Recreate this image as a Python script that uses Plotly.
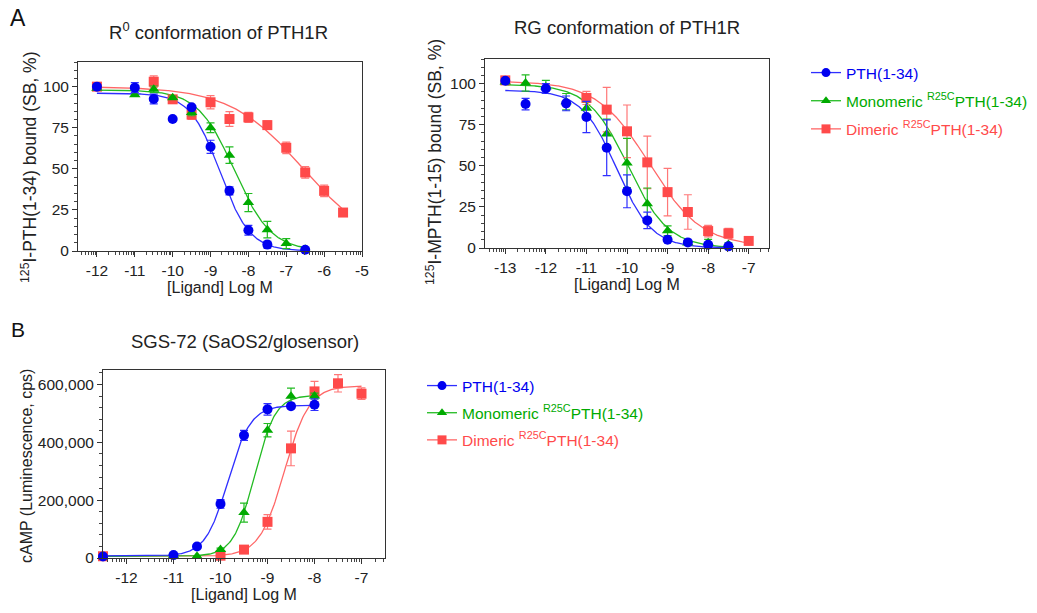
import numpy as np
import plotly.graph_objects as go

# ---------------- data ----------------
series_names = ["PTH(1-34)", "Monomeric <sup>R25C</sup>PTH(1-34)", "Dimeric <sup>R25C</sup>PTH(1-34)"]
series_colors = ["#0000F0", "#00AA00", "#FF4A4A"]
line_colors = ["#2F2FFF", "#22BB22", "#FF6666"]
err_colors = ["#2F2FFF", "#22BB22", "#FF7777"]
symbols = ["circle", "triangle-up", "square"]

# Panel A, R0 conformation (percent specific binding)
r0_pth_x = [-12, -11, -10.5, -10, -9.5, -9, -8.5, -8, -7.5, -6.5]
r0_pth_y = [100, 99.4, 92.5, 80.3, 87.4, 63.4, 36.6, 12.6, 3.9, 0.8]
r0_pth_e = [0, 3, 3, 0, 0, 4, 2.5, 3, 2, 0]
r0_mono_x = [-12, -11, -10.5, -10, -9.5, -9, -8.5, -8, -7.5, -7, -6.5]
r0_mono_y = [99, 95, 98.4, 93.3, 84.3, 75, 58.3, 29.5, 13, 4.5, 1]
r0_mono_e = [0, 0, 2, 1, 2, 3, 5, 5.5, 5, 3, 0]
r0_dim_x = [-12, -10.5, -10, -9.5, -9, -8.5, -8, -7.5, -7, -6.5, -6, -5.5]
r0_dim_y = [100, 103, 92.3, 83, 90.5, 80.3, 81.3, 76.6, 62.8, 47.8, 36.6, 23.4]
r0_dim_e = [0, 3.5, 1.5, 3, 4, 4.5, 3, 2.5, 3.5, 3.5, 3.5, 2]

# Panel A, RG conformation (percent specific binding)
rg_pth_x = [-13, -12.5, -12, -11.5, -11, -10.5, -10, -9.5, -9, -8.5, -8, -7.5]
rg_pth_y = [101.8, 87.6, 97, 88, 79.7, 61, 34.5, 16.8, 5, 3.4, 2, 1]
rg_pth_e = [0, 3.5, 3, 4.5, 9.5, 17, 10, 5, 1, 1, 1, 0]
rg_mono_x = [-13, -12.5, -12, -11.5, -11, -10.5, -10, -9.5, -9, -8.5, -8, -7.5]
rg_mono_y = [101, 100.4, 98, 89, 85, 69.4, 51.7, 27, 10.5, 3, 3.2, 2.2]
rg_mono_e = [0, 5, 4, 5, 4, 9, 15, 9.5, 3, 1, 2, 1]
rg_dim_x = [-13, -11, -10.5, -10, -9.5, -9, -8.5, -8, -7.5, -7]
rg_dim_y = [102, 91.3, 84.2, 71, 52.1, 34, 21.9, 10.3, 8.9, 4.3]
rg_dim_e = [0, 4, 13.5, 16, 16, 14.5, 10.5, 3.5, 3, 1]

# Panel B, cAMP (luminescence, cps)
sgs_pth_x = [-12.5, -11, -10.5, -10, -9.5, -9, -8.5, -8]
sgs_pth_y = [5000, 10000, 40000, 187000, 424000, 514000, 525000, 530000]
sgs_pth_e = [0, 0, 0, 15000, 17000, 20000, 7000, 20000]
sgs_mono_x = [-12.5, -11, -10.5, -10, -9.5, -9, -8.5, -8]
sgs_mono_y = [5000, 8000, 6000, 29000, 157000, 442000, 559000, 560000]
sgs_mono_e = [0, 0, 0, 5000, 33000, 23000, 28000, 10000]
sgs_dim_x = [-12.5, -10, -9.5, -9, -8.5, -8, -7.5, -7]
sgs_dim_y = [6000, 8000, 29000, 125000, 379000, 576000, 604000, 568000]
sgs_dim_e = [0, 0, 0, 25000, 60000, 35000, 30000, 20000]

# fitted 4-parameter logistic curves: [bottom, top, logEC50, hill]
r0_fits = [[0, 96, -8.75, 1.1], [0, 98, -8.37, 0.9], [0, 100, -6.55, 0.45]]
rg_fits = [[0, 96, -10.25, 1.0], [0, 99.5, -9.97, 0.88], [1, 101.5, -9.45, 0.68]]
sgs_fits = [[7000, 528000, -9.84, 1.8], [6000, 563000, -9.28, 1.95], [6000, 595000, -8.64, 1.65]]

x_ticks_r0 = [-12, -11, -10, -9, -8, -7, -6, -5]
x_ticks_rg = [-13, -12, -11, -10, -9, -8, -7]
x_ticks_sgs = [-12, -11, -10, -9, -8, -7]
y_ticks_bind = [0, 25, 50, 75, 100]
y_ticks_camp = [0, 200000, 400000, 600000]

FONT = "Liberation Sans, Arial, sans-serif"
W, H = 1037, 613

def px_dom(a, b, total):
    return [a / total, b / total]

def py_dom(top, bottom):
    return [1 - bottom / H, 1 - top / H]

def logistic(x, p, decreasing):
    b, t, c, h = p
    x = np.asarray(x)
    if decreasing:
        return b + (t - b) / (1 + 10 ** ((x - c) * h))
    return b + (t - b) / (1 + 10 ** ((c - x) * h))

fig = go.Figure()

panels = [
    ("x", "y", [(r0_pth_x, r0_pth_y, r0_pth_e), (r0_mono_x, r0_mono_y, r0_mono_e), (r0_dim_x, r0_dim_y, r0_dim_e)], r0_fits, True),
    ("x2", "y2", [(rg_pth_x, rg_pth_y, rg_pth_e), (rg_mono_x, rg_mono_y, rg_mono_e), (rg_dim_x, rg_dim_y, rg_dim_e)], rg_fits, True),
    ("x3", "y3", [(sgs_pth_x, sgs_pth_y, sgs_pth_e), (sgs_mono_x, sgs_mono_y, sgs_mono_e), (sgs_dim_x, sgs_dim_y, sgs_dim_e)], sgs_fits, False),
]

for xa, ya, sets, fits, dec in panels:
    for i in [2, 1, 0]:
        xs, ys, es = sets[i]
        xc = np.linspace(min(xs), max(xs), 300)
        fig.add_trace(go.Scatter(x=xc, y=logistic(xc, fits[i], dec), mode="lines",
                                 line=dict(color=line_colors[i], width=1.3),
                                 xaxis=xa, yaxis=ya, showlegend=False, hoverinfo="skip",
                                 cliponaxis=False))
    for i in [2, 1, 0]:
        xs, ys, es = sets[i]
        fig.add_trace(go.Scatter(x=xs, y=ys, mode="markers",
                                 marker=dict(symbol=symbols[i], color=series_colors[i],
                                             size=10, line=dict(width=0)),
                                 error_y=dict(type="data", array=es, color=err_colors[i],
                                              thickness=1.2, width=4),
                                 xaxis=xa, yaxis=ya, showlegend=False, cliponaxis=False))

# legend entries
for lg in ["legend", "legend2"]:
    for i in range(3):
        fig.add_trace(go.Scatter(x=[None], y=[None], mode="lines+markers",
                                 name=f"<span style='color:{series_colors[i]}'>{series_names[i]}</span>",
                                 line=dict(color=line_colors[i], width=1.3),
                                 marker=dict(symbol=symbols[i], color=series_colors[i], size=9),
                                 legend=lg, legendgroup=f"{lg}{i}", showlegend=True,
                                 xaxis="x", yaxis="y"))

def log_minor(lo, hi):
    vals = []
    for n in range(int(np.floor(lo)), int(np.ceil(hi)) + 1):
        for k in range(2, 10):
            v = n + np.log10(k)
            if lo <= v <= hi:
                vals.append(v)
    return vals

tickfont = dict(family=FONT, size=15.5, color="#222")
xtitlefont = dict(family=FONT, size=16, color="#222")

def xaxis(dom, rng, ticks, anchor):
    return dict(domain=dom, range=rng, tickvals=ticks, ticktext=[str(t) for t in ticks],
                showline=True, linecolor="#333", linewidth=1, mirror=True,
                ticks="outside", ticklen=5, tickcolor="#333", tickwidth=1,
                minor=dict(tickvals=log_minor(rng[0], rng[1]), ticks="outside", ticklen=3,
                           tickcolor="#444", tickwidth=1),
                showgrid=False, zeroline=False, anchor=anchor, tickfont=tickfont,
                automargin=False,
                title=dict(text="[Ligand] Log M", font=xtitlefont, standoff=4))

def yaxis(dom, rng, ticks, anchor, minor_dtick, fmt=None):
    d = dict(domain=dom, range=rng, tickvals=ticks,
             showline=True, linecolor="#333", linewidth=1, mirror=True,
             ticks="outside", ticklen=5, tickcolor="#333", tickwidth=1,
             minor=dict(dtick=minor_dtick, tick0=0, ticks="outside", ticklen=3,
                        tickcolor="#444", tickwidth=1),
             showgrid=False, zeroline=False, anchor=anchor, tickfont=tickfont,
             automargin=False)
    if fmt:
        d["tickformat"] = fmt
    return d

ytitle_font = dict(family=FONT, size=17.5, color="#222")

fig.update_layout(
    width=W, height=H, margin=dict(l=0, r=0, t=0, b=0, autoexpand=False),
    paper_bgcolor="white", plot_bgcolor="white",
    font=dict(family=FONT, color="#222"),
    xaxis=xaxis(px_dom(78, 362, W), [-12.5, -5], x_ticks_r0, "y"),
    yaxis=yaxis(py_dom(62, 251), [0, 115], y_ticks_bind, "x", 5),
    xaxis2=xaxis(px_dom(485, 769, W), [-13.5, -6.5], x_ticks_rg, "y2"),
    yaxis2=yaxis(py_dom(59, 248), [0, 115], y_ticks_bind, "x2", 5),
    xaxis3=xaxis(px_dom(103, 385, W), [-12.5, -6.5], x_ticks_sgs, "y3"),
    yaxis3=yaxis(py_dom(370, 558), [0, 650000], y_ticks_camp, "x3", 40000, fmt=","),
    legend=dict(x=806 / W, y=1 - 56 / H, xanchor="left", yanchor="top",
                font=dict(family=FONT, size=15.5), traceorder="grouped", tracegroupgap=5,
                bgcolor="rgba(0,0,0,0)", itemwidth=30),
    legend2=dict(x=422 / W, y=1 - 369 / H, xanchor="left", yanchor="top",
                 font=dict(family=FONT, size=15.5), traceorder="grouped", tracegroupgap=4,
                 bgcolor="rgba(0,0,0,0)", itemwidth=30),
    annotations=[
        dict(text="A", x=18 / W, y=1 - 18 / H, xref="paper", yref="paper", showarrow=False,
             font=dict(family=FONT, size=23, color="#111"), xanchor="center", yanchor="middle"),
        dict(text="B", x=18 / W, y=1 - 329 / H, xref="paper", yref="paper", showarrow=False,
             font=dict(family=FONT, size=21, color="#111"), xanchor="center", yanchor="middle"),
        dict(text="R<sup>0</sup> conformation of PTH1R", x=218 / W, y=1 - 31 / H, xref="paper",
             yref="paper", showarrow=False, font=dict(family=FONT, size=18.5, color="#222"),
             xanchor="center", yanchor="middle"),
        dict(text="RG conformation of PTH1R", x=627 / W, y=1 - 27 / H, xref="paper",
             yref="paper", showarrow=False, font=dict(family=FONT, size=18.5, color="#222"),
             xanchor="center", yanchor="middle"),
        dict(text="SGS-72 (SaOS2/glosensor)", x=245 / W, y=1 - 341 / H, xref="paper",
             yref="paper", showarrow=False, font=dict(family=FONT, size=18.5, color="#222"),
             xanchor="center", yanchor="middle"),
        dict(text="<sup>125</sup>I-PTH(1-34) bound (SB, %)", x=29 / W, y=1 - 167 / H,
             xref="paper", yref="paper", showarrow=False, textangle=-90, font=ytitle_font,
             xanchor="center", yanchor="middle"),
        dict(text="<sup>125</sup>I-MPTH(1-15) bound (SB, %)", x=434 / W, y=1 - 162 / H,
             xref="paper", yref="paper", showarrow=False, textangle=-90, font=ytitle_font,
             xanchor="center", yanchor="middle"),
        dict(text="cAMP (Luminescence, cps)", x=26 / W, y=1 - 466 / H,
             xref="paper", yref="paper", showarrow=False, textangle=-90,
             font=dict(family=FONT, size=16, color="#222"),
             xanchor="center", yanchor="middle"),
    ],
)

fig.write_html("out.html", post_script="document.body.style.margin='0px';",
               config={"displayModeBar": False})
